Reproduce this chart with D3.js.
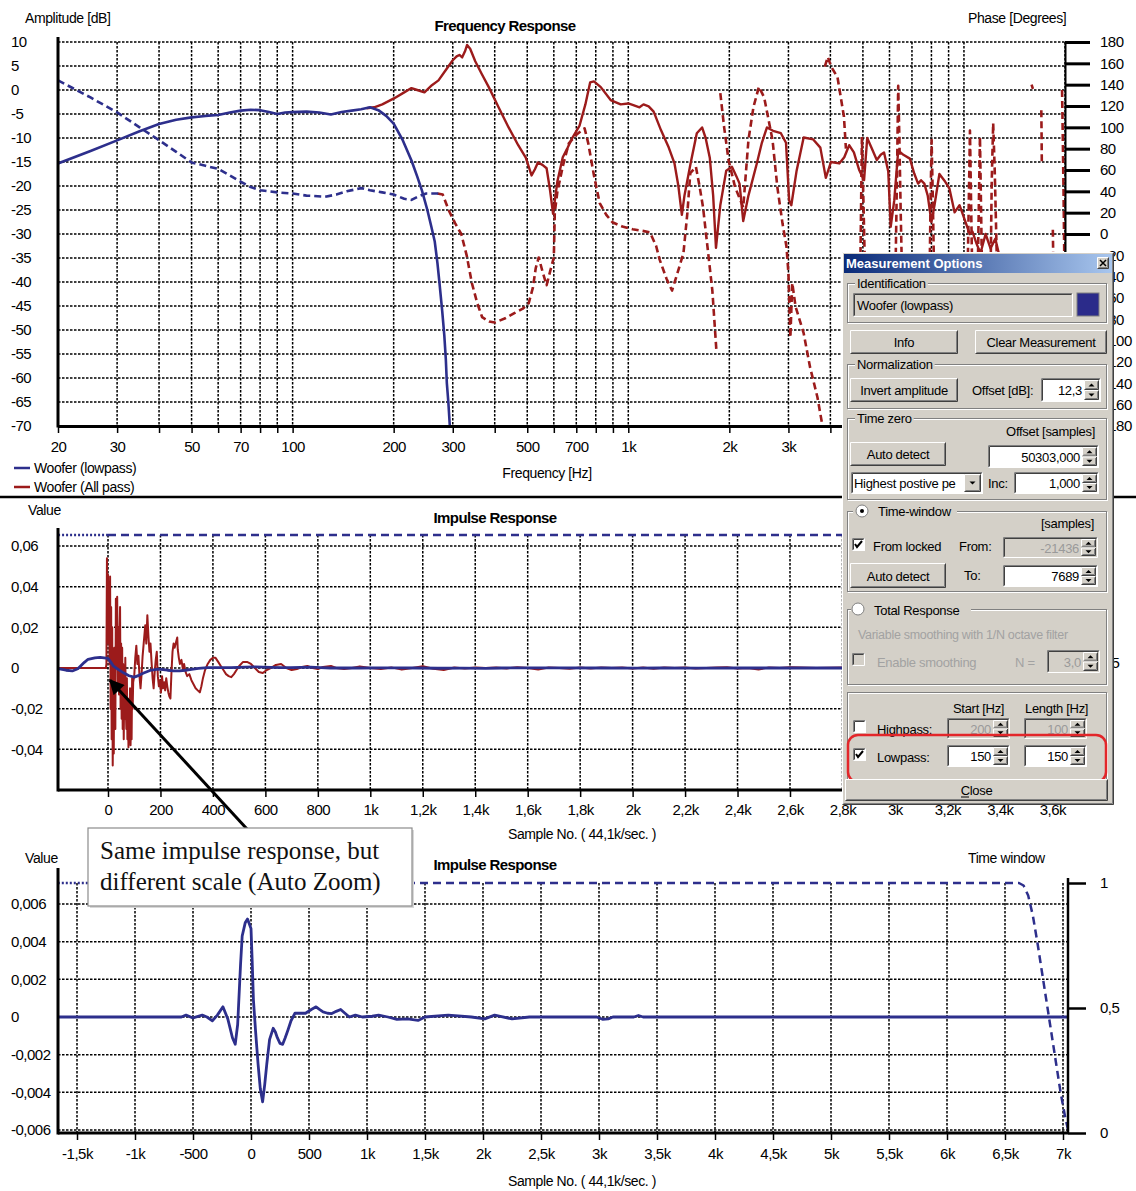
<!DOCTYPE html>
<html>
<head>
<meta charset="utf-8">
<script src="https://cdn.jsdelivr.net/npm/d3@7"></script>
<style>
  body { margin: 0; background: #fff; }
  svg { display: block; font-family: "Liberation Sans", Arial, sans-serif; }
</style>
</head>
<body>
<svg id="chart" width="1136" height="1191"></svg>
<script>
// ---------- data: frequency response panel ----------
const dbTicks = [10, 5, 0, -5, -10, -15, -20, -25, -30, -35, -40, -45, -50, -55, -60, -65, -70];
const phaseTicks = [180, 160, 140, 120, 100, 80, 60, 40, 20, 0, -20, -40, -60, -80, -100, -120, -140, -160, -180];
const freqGrid = [20, 30, 40, 50, 60, 70, 80, 90, 100, 200, 300, 400, 500, 600, 700, 800, 900,
                  1000, 2000, 3000, 4000, 5000, 6000, 7000, 8000, 9000, 10000, 20000];
// labels further right sit under the options dialog
const freqLabels = [20, 30, 50, 70, 100, 200, 300, 500, 700, 1000, 2000, 3000];

// Woofer (lowpass) amplitude [Hz, dB]
const ampLowpass = [[20,-15.3],[25,-12.7],[30,-10.5],[35,-8.6],[40,-7.1],[45,-6.2],[50,-5.7],[55,-5.4],
  [60,-5.2],[65,-4.7],[70,-4.3],[75,-4.1],[80,-4.2],[85,-4.6],[90,-5],[95,-4.7],[100,-4.6],[110,-4.5],
  [120,-4.7],[130,-5.1],[140,-4.6],[150,-4.3],[160,-4.0],[170,-3.6],[180,-4.2],[190,-5.4],[200,-7],
  [213,-10.5],[226,-14.7],[235,-18],[243,-21],[252,-25],[259,-28.5],[265,-31.5],[270,-36],[274,-40.4],
  [279,-46],[283,-51],[286,-56],[288,-61],[291,-65],[294,-70]];
// Woofer (lowpass) phase [Hz, deg]
const phaseLowpass = [[20,144],[25,128],[30,114],[35,100],[40,88],[45,77],[50,67],[55,64],[60,61],[65,55],
  [70,49],[75,44],[80,41],[90,39],[100,38],[110,36],[125,35],[135,37],[145,40],[160,43],[170,41],[185,39],
  [200,37],[215,33],[226,32],[240,36],[250,38],[265,38],[277,38]];
// Woofer (All pass) amplitude [Hz, dB]
const ampAllpass = [[166,-3.8],[175,-3.6],[185,-3.0],[201,-1.7],[215,-0.5],[226,0.4],[235,0],[247,-0.5],
  [260,1],[272,2],[285,4],[300,6.2],[308,7],[314,7.3],[320,6.8],[326,8],[331,9.4],[338,8.6],[350,6],
  [365,3.5],[384,0.6],[410,-3.5],[440,-7.8],[470,-11.5],[495,-14.1],[515,-17.8],[527,-16.5],[538,-15.1],
  [555,-15.6],[571,-16.3],[585,-21],[597,-25.8],[615,-19],[638,-14],[660,-12],[682,-9.9],[716,-7.4],
  [745,-3],[770,1.6],[790,1.8],[828,0.6],[886,-2.1],[949,-3],[1000,-2.8],[1040,-3.2],[1080,-3.6],
  [1110,-3],[1150,-3.4],[1190,-4.5],[1252,-8.4],[1320,-12],[1373,-15.3],[1410,-20],[1444,-26],
  [1470,-22],[1533,-15.3],[1600,-9],[1659,-7.8],[1700,-10],[1749,-14.1],[1790,-22],[1825,-32.9],
  [1880,-24],[1958,-16.8],[2036,-16],[2100,-18],[2145,-19.5],[2200,-27.3],[2280,-22],[2415,-15.3],
  [2500,-11],[2589,-7.8],[2700,-8.5],[2848,-9],[2950,-11],[3015,-23],[3060,-24],[3173,-16.8],
  [3330,-9.9],[3556,-10.3],[3734,-12],[3877,-18.3],[4015,-15],[4250,-15.3],[4400,-14],[4550,-11.5],
  [4700,-13],[4870,-16.6],[5040,-18.8],[5150,-10],[5300,-12],[5500,-14.6],[5650,-13.5],[5780,-13],
  [5950,-17],[6050,-28.5],[6200,-23],[6370,-12.6],[6600,-13.5],[6900,-14.3],[7110,-17.4],[7300,-19.5],
  [7450,-18.8],[7620,-19.5],[7800,-22],[8000,-27.5],[8170,-24],[8450,-17.5],[8750,-18.9],[9050,-20.5],
  [9380,-25.5],[9700,-24],[10050,-27],[10400,-30],[10600,-29.5],[10900,-32],[11200,-34],[11600,-30],
  [12000,-33],[12400,-31],[12800,-35],[13300,-38],[14000,-36],[15000,-40],[16000,-44],[18000,-48],
  [20000,-52]];
// Woofer (All pass) phase [Hz, deg], null = phase wrap
const phaseAllpass = [[270,38],[280,37],[292,22],[305,10],[318,0],[330,-20],[342,-46],[355,-65],[367,-78],
  [385,-82],[400,-83],[430,-79],[459,-74],[485,-70],[505,-65],[520,-50],[530,-32],[541,-22],[555,-35],
  [571,-48],[585,-35],[600,-22],[604,20],[615,40],[640,65],[665,85],[700,93],[741,99],[760,85],[790,55],
  [822,29],[860,18],[897,11],[960,7],[1030,4.5],[1100,3],[1160,1.5],[1210,-11],[1240,-24],[1300,-42],
  [1350,-53],[1400,-37],[1460,-18],[1500,20],[1530,57],[1590,63],[1630,45],[1670,25],[1730,-18],
  [1780,-53],[1830,-109], null,
  [1880,132],[1930,100],[1990,69],[2080,44],[2200,25],[2280,88],[2360,119],[2450,138],[2540,128],
  [2690,88],[2780,44],[2880,10],[2960,-12],[3000,-37],[3040,-97],[3080,-46],[3150,-68],[3330,-93],
  [3480,-125],[3660,-153],[3770,-176], null,
  [3850,157],[3930,166],[4020,157],[4200,147],[4390,110],[4450,80], null,
  [4900,-60],[4966,91],[5010,40],[5060,-20],[5120,-80], null,
  [6250,-40],[6320,60],[6370,139],[6420,90],[6480,20],[6550,-50], null,
  [7900,-40],[7960,40],[8010,88],[8080,30],[8150,-40], null,
  [10250,-40],[10350,40],[10420,97],[10500,30],[10600,-50], null,
  [11000,-30],[11160,91],[11250,20],[11350,-60], null,
  [12000,-40],[12100,50],[12220,104],[12350,60],[12500,-10],[12650,-70], null,
  [15900,140],[16050,136], null,
  [17000,116],[17030,95],[17060,66], null,
  [18400,4],[18480,-40], null,
  [19600,135],[19700,90],[19800,40],[19900,-20],[20000,-80]];

// ---------- data: impulse response panels ----------
const midValueTicks = [0.06, 0.04, 0.02, 0, -0.02, -0.04];
const midSampleTicks = [0, 200, 400, 600, 800, 1000, 1200, 1400, 1600, 1800, 2000, 2200, 2400, 2600,
                        2800, 3000, 3200, 3400, 3600];
const zoomValueTicks = [0.006, 0.004, 0.002, 0, -0.002, -0.004, -0.006];
const zoomSampleTicks = [-1500, -1000, -500, 0, 500, 1000, 1500, 2000, 2500, 3000, 3500, 4000, 4500,
                         5000, 5500, 6000, 6500, 7000];
const windowTicks = [1, 0.5, 0];

// impulse, Woofer (All pass) [sample, value]
const impulseAllpass = [[-192,0],[-20,0],[-8,0],[-6,0.002],[-4,0.054],[-2,0.03],[0,0.046],[2,0.012],
  [4,0.038],[6,0.002],[8,0.045],[10,-0.02],[12,0.03],[14,-0.035],[16,0.02],[18,-0.048],[20,-0.01],
  [22,-0.042],[24,0.01],[26,0.005],[28,-0.03],[30,0.034],[32,0.0],[35,0.035],[38,-0.01],[40,0.02],
  [42,-0.013],[44,0.015],[46,0.03],[48,-0.02],[50,0.012],[52,-0.025],[54,0.01],[56,-0.03],[58,0.002],
  [60,-0.035],[62,-0.01],[64,-0.025],[66,0.005],[68,-0.02],[70,-0.03],[72,-0.005],
  [74,-0.035],[76,-0.018],[78,-0.039],[80,-0.015],[82,-0.03],[84,-0.01],[86,-0.038],[88,-0.02],
  [90,-0.035],[92,-0.005],[94,-0.02],[96,-0.007],[100,-0.004],[104,0.005],[108,0.011],[112,0.002],
  [116,0.006],[120,-0.004],[124,-0.01],[128,-0.003],[132,0.006],[136,0.012],[140,0.018],[142,0.021],
  [146,0.012],[150,0.026],[154,0.016],[158,0.008],[162,0.012],[166,0.003],[170,-0.005],[174,-0.01],
  [178,-0.002],[182,0.004],[186,0.008],[190,-0.004],[194,-0.009],[198,-0.006],[202,-0.012],
  [206,-0.004],[210,-0.01],[214,-0.007],[218,-0.011],[222,-0.005],[226,-0.009],[230,-0.012],
  [234,-0.014],[238,-0.015],[242,-0.002],[246,0.008],[250,0.012],[254,0.01],[258,0.012],[264,0.015],
  [266,0.009],[270,0.005],[274,0.002],[280,0.004],[286,-0.001],[290,0.002],[296,-0.002],[302,-0.004],
  [310,-0.003],[318,-0.006],[326,-0.008],[334,-0.01],[342,-0.011],[350,-0.012],[356,-0.009],
  [362,-0.005],[370,-0.001],[380,0.002],[390,0.004],[400,0.005],[410,0.005],[420,0.003],[430,0.001],
  [440,-0.001],[450,-0.003],[460,-0.004],[470,-0.0045],[480,-0.003],[490,-0.001],[500,0.001],
  [515,0.003],[530,0.003],[545,0.002],[560,0.0],[575,-0.002],[590,-0.0025],[605,-0.001],[620,0.0],
  [640,0.0015],[660,0.002],[680,0.0],[700,-0.001],[720,-0.0005],[740,0.0005],[760,0.001],[780,0.0],
  [800,-0.0005],[820,0.0005],[850,0.001],[870,0.0],[900,-0.0005],[930,0.0],[960,0.0008],[1000,0.0],
  [1040,-0.0005],[1080,0.0003],[1120,-0.0008],[1160,0.0],[1200,0.0009],[1240,-0.0004],[1280,-0.001],
  [1320,0.0002],[1360,-0.0003],[1400,0.0003],[1440,0.0],[1480,0.0003],[1520,-0.0002],[1560,0.0004],
  [1600,0.0],[1640,-0.0007],[1680,0.0002],[1720,0.0],[1760,-0.0004],[1800,0.0003],[1840,-0.0003],
  [1880,0.0002],[1920,0.0],[1960,0.0003],[2000,-0.0002],[2040,0.0003],[2080,-0.0004],[2120,0.0002],
  [2160,0.0],[2200,0.0003],[2240,-0.0002],[2280,0.0],[2320,0.0002],[2360,0.0004],[2400,-0.0002],
  [2440,0.0],[2480,-0.0007],[2520,0.0003],[2560,0.0],[2600,0.0004],[2640,0.0002],[2700,0.0],
  [2800,0.0002],[3000,0.0],[3666,0.0]];
// impulse, Woofer (lowpass) [sample, value]
const impulseLowpass = [[-1700,0],[-600,0],[-560,0.0001],[-500,-0.00005],[-420,0.0001],[-380,0],
  [-333,-0.0002],[-290,0.0001],[-242,0.00054],[-200,-0.0001],[-160,-0.0011],[-136,-0.00145],
  [-115,-0.0004],[-90,0.0028],[-76,0.0043],[-50,0.005],[-30,0.0052],[0,0.0047],[10,0.003],[21,0.0009],
  [40,-0.0008],[61,-0.0025],[80,-0.0038],[100,-0.0045],[118,-0.0036],[136,-0.0025],[160,-0.0012],
  [191,-0.0006],[210,-0.0008],[227,-0.0011],[250,-0.0014],[273,-0.00145],[295,-0.0011],[318,-0.0007],
  [345,-0.0002],[379,0.0002],[420,0.0002],[470,0.0002],[520,0.0004],[561,0.00054],[590,0.0004],
  [621,0.00027],[660,0.0002],[697,0.00018],[735,0.0003],[773,0.0004],[810,0.0002],[848,0],[900,0.0001],
  [960,0],[1045,0.00004],[1100,0.0001],[1180,0],[1258,-0.00013],[1350,-0.0001],[1440,-0.00018],
  [1500,0],[1700,0.0001],[1900,0],[2015,-0.0001],[2100,0.0001],[2250,-0.0001],[2400,0],[2700,0],
  [2980,0],[3030,-0.00012],[3080,-0.0001],[3120,0],[3300,0],[3340,0.00008],[3380,0],[7050,0]];
// time window [sample, gain]
const windowLocked = [[-1700,1],[0,1]];
const windowTaper = [[0,1],[6620,1],[6660,0.99],[6700,0.95],[6740,0.87],[6780,0.76],[6820,0.64],
  [6860,0.52],[6900,0.4],[6940,0.28],[6980,0.16],[7020,0.06],[7050,0]];

// ---------- setup ----------
const svg = d3.select('#chart');
const BLUE = '#2d2f8c', RED = '#9c1b1b';
const fmtComma = v => String(v).replace('.', ',');
const fmtK = v => Math.abs(v) >= 1000 ? fmtComma(v / 1000) + 'k' : String(v);

svg.append('rect').attr('width', 1136).attr('height', 1191).attr('fill', '#fff');
const defs = svg.append('defs');

function clip(id, x, y, w, h) {
    defs.append('clipPath').attr('id', id).append('rect')
        .attr('x', x).attr('y', y).attr('width', w).attr('height', h);
    return `url(#${id})`;
}

function grid(g, xs, ys, xScale, yScale, x0, x1, y0, y1) {
    let gg = g.append('g').attr('stroke', '#000').attr('stroke-width', 1.5).attr('stroke-dasharray', '2.5,1.5');
    gg.selectAll('.v').data(xs).join('line').attr('class', 'v')
        .attr('x1', d => xScale(d)).attr('x2', d => xScale(d)).attr('y1', y0).attr('y2', y1);
    gg.selectAll('.h').data(ys).join('line').attr('class', 'h')
        .attr('x1', x0).attr('x2', x1).attr('y1', d => yScale(d)).attr('y2', d => yScale(d));
}

function styleAxis(a, domainWidth, tickWidth) {
    a.attr('font-family', null).attr('font-size', 15).attr('letter-spacing', '-0.5px');
    a.select('.domain').attr('stroke', '#000').attr('stroke-width', domainWidth);
    a.selectAll('.tick line').attr('stroke', '#000').attr('stroke-width', tickWidth);
    a.selectAll('.tick text').attr('fill', '#000');
}

function leftLabels(g, yScale, vals, fmt) {
    let a = g.append('g').attr('transform', 'translate(11,0)')
        .call(d3.axisLeft(yScale).tickValues(vals).tickSize(0).tickPadding(0).tickFormat(fmt));
    styleAxis(a, 0, 0);
    a.select('.domain').remove();
    a.selectAll('.tick text').attr('text-anchor', 'start').attr('x', 0);
}

function label(g, x, y, txt, opts = {}) {
    return g.append('text').attr('x', x).attr('y', y).text(txt)
        .attr('font-size', opts.size || 14)
        .attr('font-weight', opts.bold ? 'bold' : null)
        .attr('text-anchor', opts.anchor || 'start')
        .attr('letter-spacing', opts.ls || '-0.4px')
        .attr('fill', '#000');
}

// ================= panel 1: Frequency Response =================
const freqG = svg.append('g');
const xF = d3.scaleLog().domain([20, 20000]).range([58, 1065]);
const yDb = d3.scaleLinear().domain([-70, 10]).range([426, 42]);
const yPh = d3.scaleLinear().domain([-180, 180]).range([426, 42]);

grid(freqG, freqGrid, dbTicks, xF, yDb, 58, 1065, 42, 426);

const freqClip = clip('clipF', 58, 40, 1007, 388);
const lineAmp = d3.line().x(d => xF(d[0])).y(d => yDb(d[1]));
const linePh = d3.line().defined(d => d !== null).x(d => xF(d[0])).y(d => yPh(d[1]));
const curves = freqG.append('g').attr('clip-path', freqClip).attr('fill', 'none').attr('stroke-linejoin', 'round');
curves.append('path').datum(phaseAllpass).attr('d', linePh)
    .attr('stroke', RED).attr('stroke-width', 2.6).attr('stroke-dasharray', '7,4');
curves.append('path').datum(ampAllpass).attr('d', lineAmp)
    .attr('stroke', RED).attr('stroke-width', 2.4);
curves.append('path').datum(phaseLowpass).attr('d', linePh)
    .attr('stroke', BLUE).attr('stroke-width', 2.6).attr('stroke-dasharray', '7,4');
curves.append('path').datum(ampLowpass).attr('d', lineAmp)
    .attr('stroke', BLUE).attr('stroke-width', 2.6);

let axF = freqG.append('g').attr('transform', 'translate(0,426)')
    .call(d3.axisBottom(xF).tickValues(freqGrid).tickSize(7).tickSizeOuter(0).tickPadding(8)
        .tickFormat(d => freqLabels.includes(d) ? fmtK(d) : ''));
styleAxis(axF, 3, 1.5);
freqG.append('line').attr('x1', 58).attr('x2', 58).attr('y1', 37).attr('y2', 427.5)
    .attr('stroke', '#000').attr('stroke-width', 3);
leftLabels(freqG, yDb, dbTicks, d => String(d));

let axPh = freqG.append('g').attr('transform', 'translate(1065,0)')
    .call(d3.axisRight(yPh).tickValues(phaseTicks).tickSize(25).tickSizeOuter(0).tickPadding(10));
styleAxis(axPh, 2, 3);

label(freqG, 25, 23, 'Amplitude [dB]');
label(freqG, 968, 23, 'Phase [Degrees]');
label(freqG, 505, 31, 'Frequency Response', { bold: true, size: 15, anchor: 'middle', ls: '-0.6px' });
label(freqG, 547, 478, 'Frequency [Hz]', { anchor: 'middle' });

// legend
const legendItems = [['Woofer (lowpass)', BLUE], ['Woofer (All pass)', RED]];
legendItems.forEach((d, i) => {
    freqG.append('line').attr('x1', 14).attr('x2', 30).attr('y1', 468 + i * 19).attr('y2', 468 + i * 19)
        .attr('stroke', d[1]).attr('stroke-width', 2.5);
    label(freqG, 34, 473 + i * 19, d[0]);
});

svg.append('line').attr('x1', 0).attr('x2', 1136).attr('y1', 497).attr('y2', 497)
    .attr('stroke', '#000').attr('stroke-width', 2.5);

// ================= panel 2: Impulse Response =================
const midG = svg.append('g');
const xM = d3.scaleLinear().domain([0, 2600]).range([108, 790]);
const yM = d3.scaleLinear().domain([-0.06, 0.06]).range([790, 546]);
const yWm = d3.scaleLinear().domain([0, 1]).range([790, 535]);

grid(midG, midSampleTicks, midValueTicks, xM, yM, 58, 1065, 535, 790);

const midClip = clip('clipM', 58, 528, 1007, 264);
const lineM = d3.line().x(d => xM(d[0])).y(d => yM(d[1]));
const lineWm = d3.line().x(d => xM(d[0])).y(d => yWm(d[1]));
const midCurves = midG.append('g').attr('clip-path', midClip).attr('fill', 'none').attr('stroke-linejoin', 'round');
midCurves.append('path').datum(windowLocked).attr('d', lineWm)
    .attr('stroke', BLUE).attr('stroke-width', 2.5).attr('stroke-dasharray', '2,2');
midCurves.append('path').datum(windowTaper).attr('d', lineWm)
    .attr('stroke', BLUE).attr('stroke-width', 2.5).attr('stroke-dasharray', '8,5');
midCurves.append('path').datum(impulseAllpass).attr('d', lineM)
    .attr('stroke', RED).attr('stroke-width', 2);
midCurves.append('path').datum(impulseLowpass).attr('d', lineM)
    .attr('stroke', BLUE).attr('stroke-width', 2.8);

let axM = midG.append('g').attr('transform', 'translate(0,790)')
    .call(d3.axisBottom(xM).tickValues(midSampleTicks).tickSize(7).tickSizeOuter(0).tickPadding(7).tickFormat(fmtK));
styleAxis(axM, 3, 1.5);
axM.select('.domain').attr('d', 'M58,0H1065');
midG.append('line').attr('x1', 58).attr('x2', 58).attr('y1', 528).attr('y2', 791.5)
    .attr('stroke', '#000').attr('stroke-width', 3);
leftLabels(midG, yM, midValueTicks, fmtComma);

let axWm = midG.append('g').attr('transform', 'translate(1065,0)')
    .call(d3.axisRight(yWm).tickValues(windowTicks).tickSize(18).tickSizeOuter(0).tickPadding(17).tickFormat(fmtComma));
styleAxis(axWm, 2.5, 2.5);

label(midG, 28, 515, 'Value');
label(midG, 495, 523, 'Impulse Response', { bold: true, size: 15, anchor: 'middle', ls: '-0.6px' });
label(midG, 582, 839, 'Sample No. ( 44,1k/sec. )', { anchor: 'middle' });

// ================= panel 3: Impulse Response (auto zoom) =================
const botG = svg.append('g');
const xB = d3.scaleLinear().domain([-1500, 7000]).range([77, 1063]);
const yB = d3.scaleLinear().domain([-0.006, 0.006]).range([1130, 904]);
const yWb = d3.scaleLinear().domain([0, 1]).range([1133, 883]);

grid(botG, zoomSampleTicks, zoomValueTicks, xB, yB, 58, 1068, 883, 1133);

const botClip = clip('clipB', 58, 876, 1011, 259);
const lineB = d3.line().x(d => xB(d[0])).y(d => yB(d[1]));
const lineWb = d3.line().x(d => xB(d[0])).y(d => yWb(d[1]));
const botCurves = botG.append('g').attr('clip-path', botClip).attr('fill', 'none').attr('stroke-linejoin', 'round');
botCurves.append('path').datum(windowLocked).attr('d', lineWb)
    .attr('stroke', BLUE).attr('stroke-width', 2.5).attr('stroke-dasharray', '2,2');
botCurves.append('path').datum(windowTaper).attr('d', lineWb)
    .attr('stroke', BLUE).attr('stroke-width', 2.5).attr('stroke-dasharray', '8,5');
botCurves.append('path').datum(impulseLowpass).attr('d', lineB)
    .attr('stroke', BLUE).attr('stroke-width', 2.8);

let axB = botG.append('g').attr('transform', 'translate(0,1133)')
    .call(d3.axisBottom(xB).tickValues(zoomSampleTicks).tickSize(7).tickSizeOuter(0).tickPadding(8).tickFormat(fmtK));
styleAxis(axB, 3, 1.5);
axB.select('.domain').attr('d', 'M58,0H1068');
botG.append('line').attr('x1', 58).attr('x2', 58).attr('y1', 868).attr('y2', 1134.5)
    .attr('stroke', '#000').attr('stroke-width', 3);
leftLabels(botG, yB, zoomValueTicks, fmtComma);

let axWb = botG.append('g').attr('transform', 'translate(1068,0)')
    .call(d3.axisRight(yWb).tickValues(windowTicks).tickSize(18).tickSizeOuter(0).tickPadding(14).tickFormat(fmtComma));
styleAxis(axWb, 2.5, 2.5);
axWb.select('.domain').attr('d', 'M0,878V1133');

label(botG, 25, 863, 'Value');
label(botG, 968, 863, 'Time window');
label(botG, 495, 870, 'Impulse Response', { bold: true, size: 15, anchor: 'middle', ls: '-0.6px' });
label(botG, 582, 1186, 'Sample No. ( 44,1k/sec. )', { anchor: 'middle' });

// ================= annotation =================
defs.append('marker').attr('id', 'arrowHead').attr('viewBox', '0 0 10 10')
    .attr('refX', 9).attr('refY', 5).attr('markerWidth', 6).attr('markerHeight', 5)
    .attr('orient', 'auto').attr('markerUnits', 'strokeWidth')
    .append('path').attr('d', 'M0,0L10,5L0,10Z').attr('fill', '#000');
svg.append('line').attr('x1', 247).attr('y1', 829)
    .attr('x2', xM(0) + 2).attr('y2', yM(-0.005) + 2)
    .attr('stroke', '#000').attr('stroke-width', 3).attr('marker-end', 'url(#arrowHead)');

const note = svg.append('g');
note.append('rect').attr('x', 90).attr('y', 830).attr('width', 324).attr('height', 78).attr('fill', '#d8d8d8');
note.append('rect').attr('x', 88).attr('y', 828).attr('width', 324).attr('height', 78)
    .attr('fill', '#fff').attr('stroke', '#8c8c8c').attr('stroke-width', 1.2);
['Same impulse response, but', 'different scale (Auto Zoom)'].forEach((t, i) => {
    note.append('text').attr('x', 100).attr('y', 859 + i * 31).text(t)
        .attr('font-family', '"Liberation Serif", "Times New Roman", serif').attr('font-size', 25).attr('fill', '#111');
});

// ================= Measurement Options dialog =================
const FACE = '#d4d0c8';
const dlg = svg.append('g').attr('font-size', 13).attr('letter-spacing', '-0.3px');

function raised(g, x, y, w, h) {
    g.append('path').attr('d', `M${x + 0.5},${y + h - 0.5}V${y + 0.5}H${x + w - 0.5}`).attr('stroke', '#fff').attr('fill', 'none');
    g.append('path').attr('d', `M${x + w - 0.5},${y + 0.5}V${y + h - 0.5}H${x + 0.5}`).attr('stroke', '#404040').attr('fill', 'none');
    g.append('path').attr('d', `M${x + w - 1.5},${y + 1.5}V${y + h - 1.5}H${x + 1.5}`).attr('stroke', '#808080').attr('fill', 'none');
}
function sunken(g, x, y, w, h, fill) {
    g.append('rect').attr('x', x).attr('y', y).attr('width', w).attr('height', h).attr('fill', fill);
    g.append('path').attr('d', `M${x + 0.5},${y + h - 0.5}V${y + 0.5}H${x + w - 0.5}`).attr('stroke', '#808080').attr('fill', 'none');
    g.append('path').attr('d', `M${x + 1.5},${y + h - 1.5}V${y + 1.5}H${x + w - 1.5}`).attr('stroke', '#404040').attr('fill', 'none');
    g.append('path').attr('d', `M${x + w - 0.5},${y + 0.5}V${y + h - 0.5}H${x + 0.5}`).attr('stroke', '#fff').attr('fill', 'none');
}
function button(g, x, y, w, h, txt) {
    g.append('rect').attr('x', x).attr('y', y).attr('width', w).attr('height', h).attr('fill', FACE);
    raised(g, x, y, w, h);
    return g.append('text').attr('x', x + w / 2).attr('y', y + h / 2 + 5).attr('text-anchor', 'middle').text(txt);
}
function arrowsBox(g, x, y, w, h, dir) {
    g.append('rect').attr('x', x).attr('y', y).attr('width', w).attr('height', h).attr('fill', FACE);
    raised(g, x, y, w, h);
    let cx = x + w / 2, cy = y + h / 2;
    let p = dir === 'up' ? `M${cx - 3},${cy + 1.5}L${cx + 3},${cy + 1.5}L${cx},${cy - 1.5}Z`
                         : `M${cx - 3},${cy - 1.5}L${cx + 3},${cy - 1.5}L${cx},${cy + 1.5}Z`;
    g.append('path').attr('d', p).attr('fill', '#000');
}
function spin(g, x, y, w, h, txt, disabled) {
    sunken(g, x, y, w, h, disabled ? FACE : '#fff');
    g.append('text').attr('x', x + w - 19).attr('y', y + h / 2 + 5).attr('text-anchor', 'end')
        .attr('fill', disabled ? '#9a9a9a' : '#000').text(txt);
    let bh = (h - 4) / 2;
    arrowsBox(g, x + w - 17, y + 2, 15, bh, 'up');
    arrowsBox(g, x + w - 17, y + 2 + bh, 15, bh, 'down');
}
function checkbox(g, x, y, checked, disabled) {
    sunken(g, x, y, 13, 13, disabled ? FACE : '#fff');
    if (checked) g.append('path').attr('d', `M${x + 3},${y + 6}l2,3l5,-6`).attr('stroke', '#000')
        .attr('stroke-width', 2).attr('fill', 'none');
}
function radio(g, cx, cy, checked) {
    g.append('circle').attr('cx', cx).attr('cy', cy).attr('r', 6).attr('fill', '#fff').attr('stroke', '#808080');
    if (checked) g.append('circle').attr('cx', cx).attr('cy', cy).attr('r', 2).attr('fill', '#000');
}
function groupBox(g, x, y, w, h, txt, txtX) {
    g.append('rect').attr('x', x + 1.5).attr('y', y + 1.5).attr('width', w - 1).attr('height', h - 1)
        .attr('fill', 'none').attr('stroke', '#fff');
    g.append('rect').attr('x', x + 0.5).attr('y', y + 0.5).attr('width', w - 1).attr('height', h - 1)
        .attr('fill', 'none').attr('stroke', '#808080');
    if (txt) {
        let t = g.append('text').attr('x', txtX || x + 10).attr('y', y + 5).text(txt);
        let bb = t.node().getBBox();
        g.insert('rect', () => t.node()).attr('x', bb.x - 2).attr('y', y - 2).attr('width', bb.width + 4)
            .attr('height', 6).attr('fill', FACE);
    }
}
function txt(g, x, y, s, anchor, color) {
    return g.append('text').attr('x', x).attr('y', y).attr('text-anchor', anchor || 'start')
        .attr('fill', color || '#000').text(s);
}

// body and frame
dlg.append('rect').attr('x', 842).attr('y', 252).attr('width', 272).attr('height', 553).attr('fill', FACE);
raised(dlg, 842, 252, 272, 553);

// title bar
const grad = defs.append('linearGradient').attr('id', 'titleGrad');
grad.append('stop').attr('offset', '0%').attr('stop-color', '#0a2a78');
grad.append('stop').attr('offset', '100%').attr('stop-color', '#a8c6ee');
dlg.append('rect').attr('x', 844).attr('y', 254).attr('width', 268).attr('height', 19).attr('fill', 'url(#titleGrad)');
dlg.append('text').attr('x', 846).attr('y', 268).attr('fill', '#fff').attr('font-weight', 'bold')
    .attr('font-size', 13).attr('letter-spacing', '0px').text('Measurement Options');
dlg.append('rect').attr('x', 1097).attr('y', 257).attr('width', 12).attr('height', 12).attr('fill', FACE);
raised(dlg, 1097, 257, 12, 12);
dlg.append('path').attr('d', 'M1100,260L1106,266M1106,260L1100,266').attr('stroke', '#000').attr('stroke-width', 1.5);

// Identification
groupBox(dlg, 847, 283, 260, 40, 'Identification', 857);
sunken(dlg, 853, 293, 220, 24, FACE);
txt(dlg, 857, 310, 'Woofer (lowpass)');
dlg.append('rect').attr('x', 1077).attr('y', 293).attr('width', 22).attr('height', 23).attr('fill', '#2b2b8a')
    .attr('stroke', '#808080');

button(dlg, 850, 330, 108, 24, 'Info');
button(dlg, 975, 330, 132, 24, 'Clear Measurement');

// Normalization
groupBox(dlg, 847, 364, 260, 45, 'Normalization', 857);
button(dlg, 850, 378, 108, 24, 'Invert amplitude');
txt(dlg, 972, 395, 'Offset [dB]:');
spin(dlg, 1041, 378, 60, 24, '12,3');

// Time zero
groupBox(dlg, 847, 418, 260, 82, 'Time zero', 857);
txt(dlg, 1095, 436, 'Offset [samples]', 'end');
button(dlg, 850, 442, 96, 24, 'Auto detect');
spin(dlg, 988, 445, 111, 23, '50303,000');
sunken(dlg, 851, 472, 132, 22, '#fff');
txt(dlg, 854, 488, 'Highest postive pe');
arrowsBox(dlg, 964, 474, 17, 18, 'down');
txt(dlg, 988, 488, 'Inc:');
spin(dlg, 1014, 472, 85, 22, '1,000');

// Time-window
groupBox(dlg, 847, 511, 260, 81, null);
dlg.append('rect').attr('x', 853).attr('y', 505).attr('width', 104).attr('height', 12).attr('fill', FACE);
radio(dlg, 862, 511, true);
txt(dlg, 878, 516, 'Time-window');
txt(dlg, 1094, 528, '[samples]', 'end');
checkbox(dlg, 852, 538, true, false);
txt(dlg, 873, 551, 'From locked');
txt(dlg, 959, 551, 'From:');
spin(dlg, 1003, 537, 95, 21, '-21436', true);
button(dlg, 850, 563, 96, 25, 'Auto detect');
txt(dlg, 964, 580, 'To:');
spin(dlg, 1003, 565, 95, 22, '7689');

// Total Response
groupBox(dlg, 847, 609, 260, 76, null);
dlg.append('rect').attr('x', 851).attr('y', 603).attr('width', 120).attr('height', 12).attr('fill', FACE);
radio(dlg, 858, 609, false);
txt(dlg, 874, 615, 'Total Response');
txt(dlg, 858, 639, 'Variable smoothing with 1/N octave filter', 'start', '#a2a2a2').attr('font-size', 12.5);
checkbox(dlg, 852, 653, false, true);
txt(dlg, 877, 667, 'Enable smoothing', 'start', '#a2a2a2');
txt(dlg, 1015, 667, 'N =', 'start', '#a2a2a2');
spin(dlg, 1047, 650, 53, 23, '3,0', true);

// filters
groupBox(dlg, 847, 692, 260, 88, null);
txt(dlg, 953, 713, 'Start [Hz]');
txt(dlg, 1025, 713, 'Length [Hz]');
checkbox(dlg, 853, 720, false, false);
txt(dlg, 877, 734, 'Highpass:');
spin(dlg, 947, 718, 63, 21, '200', true);
spin(dlg, 1024, 718, 63, 21, '100', true);
checkbox(dlg, 853, 748, true, false);
txt(dlg, 877, 762, 'Lowpass:');
spin(dlg, 947, 745, 63, 22, '150');
spin(dlg, 1024, 745, 63, 22, '150');
dlg.append('rect').attr('x', 848).attr('y', 735).attr('width', 258).attr('height', 47).attr('rx', 10)
    .attr('fill', 'none').attr('stroke', '#e3262a').attr('stroke-width', 2.5);

button(dlg, 845, 779, 263, 22, 'Close');
dlg.append('line').attr('x1', 961).attr('x2', 969).attr('y1', 797).attr('y2', 797).attr('stroke', '#000');
</script>
</body>
</html>
